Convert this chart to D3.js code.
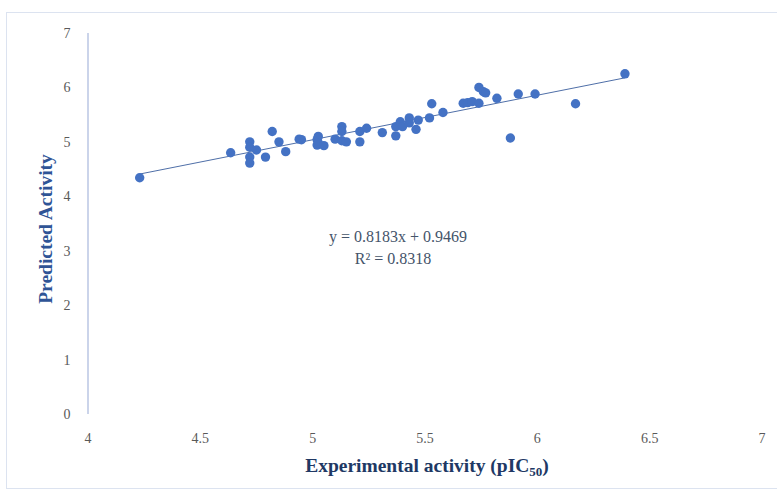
<!DOCTYPE html>
<html>
<head>
<meta charset="utf-8">
<script src="https://cdn.jsdelivr.net/npm/d3@7"></script>
<style>
  body { margin: 0; background: #fff; }
  text { font-family: "Liberation Serif", "Times New Roman", serif; }
</style>
</head>
<body>
<script>
// experimental pIC50 vs predicted activity
const expActivity = [4.23, 4.635, 4.72, 4.72, 4.75, 4.72, 4.72, 4.79, 4.82, 4.85, 4.88, 4.94, 4.95,
  5.02, 5.02, 5.025, 5.025, 5.05, 5.10, 5.13, 5.13, 5.13, 5.15, 5.21, 5.21, 5.24, 5.31,
  5.37, 5.37, 5.39, 5.40, 5.43, 5.43, 5.46, 5.47, 5.52, 5.53, 5.58, 5.67, 5.69, 5.71,
  5.74, 5.74, 5.76, 5.77, 5.82, 5.88, 5.915, 5.99, 6.17, 6.39];
const predActivity = [4.34, 4.80, 5.00, 4.90, 4.85, 4.72, 4.61, 4.72, 5.19, 5.00, 4.82, 5.05, 5.04,
  5.04, 4.94, 5.10, 4.98, 4.93, 5.05, 5.28, 5.19, 5.02, 5.00, 5.19, 5.00, 5.25, 5.17,
  5.28, 5.11, 5.37, 5.28, 5.44, 5.35, 5.23, 5.40, 5.44, 5.70, 5.54, 5.71, 5.72, 5.74,
  5.71, 6.00, 5.92, 5.90, 5.80, 5.07, 5.88, 5.88, 5.70, 6.25];
const xTicks = [4, 4.5, 5, 5.5, 6, 6.5, 7];
const yTicks = [0, 1, 2, 3, 4, 5, 6, 7];
const slope = 0.8183, intercept = 0.9469;

const w = 777, h = 495;

const svg = d3.select("body").append("svg")
  .attr("width", w)
  .attr("height", h);

// chart frame
svg.append("rect")
  .attr("x", 6.5).attr("y", 12.5)
  .attr("width", 790).attr("height", 476)
  .attr("fill", "none")
  .attr("stroke", "#DCE3F0");

const xScale = d3.scaleLinear().domain([4, 7]).range([88, 762]);
const yScale = d3.scaleLinear().domain([0, 7]).range([414, 33]);

// y axis line only
svg.append("line")
  .attr("x1", xScale(4)).attr("x2", xScale(4))
  .attr("y1", yScale(0)).attr("y2", yScale(7))
  .attr("stroke", "#A8B7DC")
  .attr("stroke-width", 1.2);

svg.selectAll(".ytick")
  .data(yTicks)
  .enter()
  .append("text")
  .attr("class", "ytick")
  .attr("x", 67)
  .attr("y", d => yScale(d) + 5)
  .attr("text-anchor", "middle")
  .attr("font-size", 14)
  .attr("fill", "#595959")
  .text(d => d);

svg.selectAll(".xtick")
  .data(xTicks)
  .enter()
  .append("text")
  .attr("class", "xtick")
  .attr("x", d => xScale(d))
  .attr("y", 443)
  .attr("text-anchor", "middle")
  .attr("font-size", 14)
  .attr("fill", "#595959")
  .text(d => d);

// trendline
const xMin = d3.min(expActivity), xMax = d3.max(expActivity);
svg.append("line")
  .attr("x1", xScale(xMin)).attr("y1", yScale(slope * xMin + intercept))
  .attr("x2", xScale(xMax)).attr("y2", yScale(slope * xMax + intercept))
  .attr("stroke", "#4F6FA8")
  .attr("stroke-width", 1);

svg.selectAll("circle")
  .data(expActivity)
  .enter()
  .append("circle")
  .attr("cx", d => xScale(d))
  .attr("cy", (d, i) => yScale(predActivity[i]))
  .attr("r", 4.7)
  .attr("fill", "#4472C4");

// equation
svg.append("text")
  .attr("x", 398).attr("y", 242)
  .attr("text-anchor", "middle")
  .attr("font-size", 16)
  .attr("fill", "#44546A")
  .text("y = 0.8183x + 0.9469");
svg.append("text")
  .attr("x", 393).attr("y", 264)
  .attr("text-anchor", "middle")
  .attr("font-size", 16)
  .attr("fill", "#44546A")
  .text("R² = 0.8318");

// axis titles
const xt = svg.append("text")
  .attr("x", 427).attr("y", 472)
  .attr("text-anchor", "middle")
  .attr("font-size", 19.5)
  .attr("font-weight", "bold")
  .attr("fill", "#203864");
xt.append("tspan").text("Experimental activity (pIC");
xt.append("tspan").attr("font-size", 13).attr("dy", 4).text("50");
xt.append("tspan").attr("dy", -4).text(")");

svg.append("text")
  .attr("transform", "translate(52,229) rotate(-90)")
  .attr("text-anchor", "middle")
  .attr("font-size", 19.5)
  .attr("font-weight", "bold")
  .attr("fill", "#2F5496")
  .text("Predicted Activity");
</script>
</body>
</html>
